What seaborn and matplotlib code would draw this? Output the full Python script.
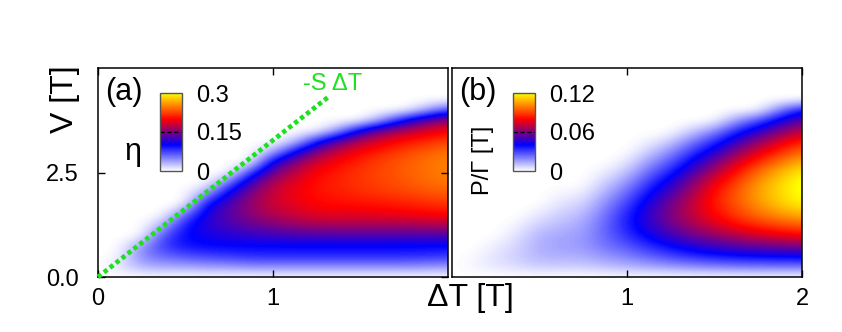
import numpy as np
import matplotlib
matplotlib.use("Agg")
import matplotlib.pyplot as plt
import seaborn as sns
from matplotlib.colors import LinearSegmentedColormap

sns.set_theme(style="white")
plt.rcParams["font.family"] = ["Liberation Sans", "DejaVu Sans"]

# ---------------- data ----------------
# temperature difference grid (columns) and bias voltage grid (rows)
dT = [0.0, 0.125, 0.25, 0.375, 0.5, 0.625, 0.75, 0.875, 1.0,
      1.125, 1.25, 1.375, 1.5, 1.625, 1.75, 1.875, 2.0]
V = [0.0, 0.25, 0.5, 0.75, 1.0, 1.25, 1.5, 1.75, 2.0, 2.25, 2.5,
     2.75, 3.0, 3.25, 3.5, 3.75, 4.0, 4.25, 4.5, 4.75, 5.0]

# efficiency eta, one list per dT column (values along V, zeros above)
eta_cols = [
    [0],
    [0, 0.012, 0.004],
    [0, 0.03, 0.05, 0.04],
    [0, 0.035, 0.06, 0.08, 0.07, 0.03],
    [0, 0.035, 0.07, 0.095, 0.1, 0.095, 0.06],
    [0, 0.04, 0.075, 0.1, 0.108, 0.115, 0.115, 0.1, 0.04],
    [0, 0.04, 0.08, 0.1, 0.115, 0.13, 0.135, 0.13, 0.11, 0.06],
    [0, 0.045, 0.085, 0.1, 0.12, 0.14, 0.155, 0.16, 0.15, 0.13, 0.08],
    [0, 0.045, 0.085, 0.1, 0.125, 0.15, 0.17, 0.18, 0.18, 0.17, 0.145,
     0.11, 0.03],
    [0, 0.045, 0.085, 0.1, 0.128, 0.158, 0.18, 0.19, 0.195, 0.19, 0.175,
     0.15, 0.1, 0.02],
    [0, 0.045, 0.085, 0.1, 0.13, 0.165, 0.19, 0.2, 0.205, 0.205, 0.2,
     0.185, 0.15, 0.09],
    [0, 0.045, 0.085, 0.1, 0.13, 0.165, 0.19, 0.203, 0.21, 0.213, 0.21,
     0.2, 0.18, 0.14, 0.04],
    [0, 0.045, 0.085, 0.1, 0.13, 0.165, 0.19, 0.205, 0.215, 0.22, 0.22,
     0.215, 0.2, 0.17, 0.11],
    [0, 0.045, 0.085, 0.1, 0.13, 0.165, 0.192, 0.207, 0.22, 0.226, 0.228,
     0.225, 0.213, 0.19, 0.15, 0.04],
    [0, 0.045, 0.085, 0.1, 0.13, 0.165, 0.195, 0.21, 0.225, 0.232, 0.235,
     0.235, 0.225, 0.205, 0.17, 0.1],
    [0, 0.043, 0.083, 0.1, 0.13, 0.168, 0.198, 0.215, 0.23, 0.24, 0.243,
     0.243, 0.235, 0.215, 0.185, 0.14, 0.03],
    [0, 0.04, 0.08, 0.1, 0.13, 0.17, 0.2, 0.22, 0.235, 0.245, 0.25,
     0.25, 0.245, 0.225, 0.2, 0.16, 0.07],
]

# power P/Gamma, one list per dT column (values along V, zeros above)
power_cols = [
    [0],
    [0, 0.002, 0.001],
    [0, 0.004, 0.005, 0.003],
    [0, 0.006, 0.008, 0.007, 0.005, 0.002],
    [0, 0.008, 0.012, 0.013, 0.012, 0.008, 0.004],
    [0, 0.008, 0.013, 0.015, 0.014, 0.011, 0.008, 0.005, 0.002],
    [0, 0.008, 0.013, 0.016, 0.016, 0.014, 0.011, 0.007, 0.003],
    [0, 0.01, 0.017, 0.022, 0.024, 0.024, 0.022, 0.018, 0.013, 0.008, 0.003],
    [0, 0.012, 0.02, 0.027, 0.033, 0.036, 0.035, 0.03, 0.024, 0.017,
     0.01, 0.004],
    [0, 0.014, 0.025, 0.034, 0.042, 0.047, 0.048, 0.045, 0.039, 0.032,
     0.024, 0.016, 0.008, 0.002],
    [0, 0.016, 0.03, 0.04, 0.05, 0.057, 0.06, 0.058, 0.052, 0.045,
     0.036, 0.027, 0.018, 0.008],
    [0, 0.018, 0.034, 0.046, 0.057, 0.066, 0.071, 0.071, 0.067, 0.061,
     0.052, 0.042, 0.032, 0.021, 0.008],
    [0, 0.02, 0.037, 0.05, 0.063, 0.074, 0.08, 0.083, 0.082, 0.077,
     0.068, 0.057, 0.045, 0.033, 0.018],
    [0, 0.021, 0.039, 0.054, 0.068, 0.081, 0.089, 0.093, 0.094, 0.09,
     0.083, 0.073, 0.061, 0.048, 0.034, 0.016],
    [0, 0.022, 0.04, 0.057, 0.073, 0.087, 0.097, 0.103, 0.105, 0.103,
     0.097, 0.087, 0.075, 0.062, 0.046, 0.028],
    [0, 0.022, 0.041, 0.058, 0.077, 0.091, 0.103, 0.111, 0.114, 0.113,
     0.108, 0.098, 0.086, 0.074, 0.059, 0.043, 0.02],
    [0, 0.022, 0.042, 0.06, 0.08, 0.095, 0.108, 0.118, 0.122, 0.122,
     0.118, 0.108, 0.097, 0.085, 0.07, 0.055, 0.038],
]

# stopping-voltage line -S dT
sline_dT = [0.0, 1.314]
sline_V = [0.0, 4.3]

eta_ticks = [0, 0.15, 0.3]
eta_ticklabels = ["0", "0.15", "0.3"]
power_ticks = [0, 0.06, 0.12]
power_ticklabels = ["0", "0.06", "0.12"]


def to_grid(cols):
    g = np.zeros((len(V), len(dT)))
    for j, c in enumerate(cols):
        g[:len(c), j] = c
    return g


# ---------------- figure ----------------
W, H = 842, 332
fig = plt.figure(figsize=(W / 100, H / 100), dpi=100)
cmap = LinearSegmentedColormap.from_list("wbry", ["white", "blue", "red", "yellow"])

axA = fig.add_axes([98 / W, 55 / H, 350 / W, 209 / H])
axB = fig.add_axes([452 / W, 55 / H, 350 / W, 209 / H])

hx = (dT[1] - dT[0]) / 2
hy = (V[1] - V[0]) / 2
ext = [dT[0] - hx, dT[-1] + hx, V[0] - hy, V[-1] + hy]

mA = axA.imshow(to_grid(eta_cols), origin="lower", extent=ext, aspect="auto",
                cmap=cmap, vmin=0, vmax=0.3, interpolation="bicubic",
                interpolation_stage="data")
mB = axB.imshow(to_grid(power_cols), origin="lower", extent=ext, aspect="auto",
                cmap=cmap, vmin=0, vmax=0.12, interpolation="bicubic",
                interpolation_stage="data")

sns.lineplot(x=sline_dT, y=sline_V, ax=axA, color="#1ee01e", lw=3.4,
             linestyle=(0, (0.9, 0.7)), legend=False, clip_on=False, zorder=5)

for ax in (axA, axB):
    ax.set_xlim(0, 2)
    ax.set_ylim(0, 5)
    for s in ax.spines.values():
        s.set_color("black")
        s.set_linewidth(1.1)
    ax.set_xlabel("")
    ax.set_ylabel("")

axA.set_xticks([0, 1])
axA.set_xticklabels(["0", "1"])
axA.set_yticks([0, 2.5])
axA.set_yticklabels(["0.0", "2.5"])
axA.tick_params(direction="in", length=5, width=1, top=True, right=True,
                bottom=True, left=True, labelsize=17, colors="black")
axA.tick_params(axis="x", pad=8)
axA.tick_params(axis="y", pad=14)

axB.set_xticks([1, 2])
axB.set_xticklabels(["1", "2"])
axB.set_yticks([])
axB.tick_params(direction="in", length=5, width=1, top=True, bottom=True,
                labelsize=17, colors="black")
axB.tick_params(axis="x", pad=8)

axA.text(0.02, 0.885, "(a)", transform=axA.transAxes, fontsize=22,
         ha="left", va="center", color="black")
axB.text(0.02, 0.885, "(b)", transform=axB.transAxes, fontsize=22,
         ha="left", va="center", color="black")
axA.text(0.10, 0.60, "η", transform=axA.transAxes, fontsize=22,
         ha="center", va="center", color="black")
axB.text(0.09, 0.56, "P/Γ [T]", transform=axB.transAxes, fontsize=17,
         ha="center", va="center", rotation=90, color="black")
axA.text(0.671, 0.923, "-S ΔT", transform=axA.transAxes, fontsize=17,
         ha="center", va="center", color="#1ee01e")

fig.text(65 / W, 1 - 99 / H, "V [T]", rotation=90, fontsize=23,
         ha="center", va="center", color="black")
fig.text(470 / W, 1 - 298 / H, "ΔT [T]", fontsize=23,
         ha="center", va="center", color="black")


# colorbars
def add_cbar(x0, mappable, ticks, labels):
    cax = fig.add_axes([x0 / W, (H - 171) / H, 22 / W, 78 / H])
    cb = fig.colorbar(mappable, cax=cax, ticks=ticks)
    cb.ax.set_yticklabels(labels)
    cb.ax.tick_params(length=0, pad=10, labelsize=17, colors="black")
    cb.outline.set_edgecolor("#555555")
    cb.outline.set_linewidth(1.0)
    cax.axhline(ticks[1], color="black", lw=1.0, ls=(0, (3, 2)))
    return cb


add_cbar(160, mA, eta_ticks, eta_ticklabels)
add_cbar(513, mB, power_ticks, power_ticklabels)

fig.savefig("out.png", dpi=100)
